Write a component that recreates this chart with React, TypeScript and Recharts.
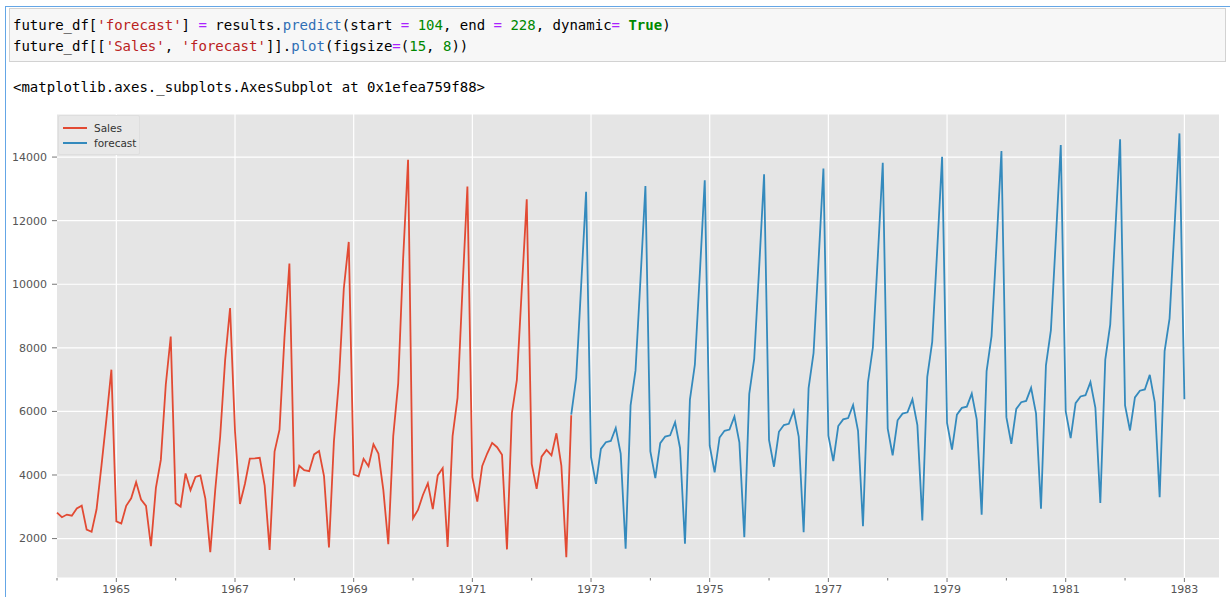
import { LineChart, Line, XAxis, YAxis, CartesianGrid } from "recharts";

// monthly champagne sales, 1964-01 .. 1972-09 (index 0..104)
const sales = [
  2815, 2672, 2755, 2721, 2946, 3036, 2282, 2212, 2922, 4301, 5764, 7312,
  2541, 2475, 3031, 3266, 3776, 3230, 3028, 1759, 3595, 4474, 6838, 8357,
  3113, 3006, 4047, 3523, 3937, 3986, 3260, 1573, 3528, 5211, 7614, 9254,
  5375, 3088, 3718, 4514, 4520, 4539, 3663, 1643, 4739, 5428, 8314, 10651,
  3633, 4292, 4154, 4121, 4647, 4753, 3965, 1723, 5048, 6922, 9858, 11331,
  4016, 3957, 4510, 4276, 4968, 4677, 3523, 1821, 5222, 6872, 10803, 13916,
  2639, 2899, 3370, 3740, 2927, 3986, 4217, 1738, 5221, 6424, 9842, 13076,
  3934, 3162, 4286, 4676, 5010, 4874, 4633, 1659, 5951, 6981, 9851, 12670,
  4348, 3564, 4577, 4788, 4618, 5312, 4298, 1413, 5877,
];

// predict(start=104, end=228): 1972-09 .. 1983-01
const forecast = [
  5900, 7050, 9950, 12910,
  4560, 3720, 4820, 5030, 5070, 5480, 4670, 1680, 6190, 7290, 10150, 13090,
  4740, 3900, 5000, 5210, 5250, 5660, 4850, 1840, 6370, 7470, 10330, 13270,
  4920, 4080, 5180, 5390, 5430, 5840, 5030, 2040, 6550, 7650, 10510, 13460,
  5100, 4260, 5360, 5570, 5610, 6020, 5210, 2200, 6730, 7830, 10690, 13640,
  5240, 4440, 5540, 5750, 5790, 6200, 5390, 2390, 6910, 8010, 10870, 13820,
  5460, 4620, 5720, 5930, 5970, 6380, 5570, 2570, 7090, 8190, 11050, 14010,
  5640, 4800, 5900, 6110, 6150, 6560, 5750, 2750, 7270, 8370, 11230, 14190,
  5820, 4980, 6080, 6290, 6330, 6740, 5930, 2940, 7450, 8550, 11410, 14380,
  6000, 5160, 6260, 6470, 6510, 6920, 6110, 3120, 7630, 8730, 11590, 14560,
  6190, 5400, 6440, 6650, 6690, 7150, 6290, 3300, 7900, 8920, 11770, 14745,
  6380,
];

const forecastStart = 104;
const startYear = 1964;
const yearTicks = [0, 12, 24, 36, 48, 60, 72, 84, 96, 108, 120, 132, 144, 156, 168, 180, 192, 204, 216, 228];
const labelTicks = [12, 36, 60, 84, 108, 132, 156, 180, 204, 228];
const yTicks = [2000, 4000, 6000, 8000, 10000, 12000, 14000];
const seriesNames = ["Sales", "forecast"];

const data = Array.from({ length: forecastStart + forecast.length }, (_, t) => ({
  t,
  sales: t < sales.length ? sales[t] : null,
  forecast: t >= forecastStart ? forecast[t - forecastStart] : null,
}));

const RED = "#E24A33";
const BLUE = "#348ABD";
const mono = "'DejaVu Sans Mono', monospace";

function YearTick(props: any) {
  const { x, y, payload } = props;
  const year = startYear + payload.value / 12;
  const major = labelTicks.includes(payload.value);
  return (
    <g>
      <line x1={x} x2={x} y1={y} y2={y + (major ? 4 : 2.5)} stroke="#777" />
      {major && (
        <text x={x} y={y + 15} textAnchor="middle" fill="#555" fontSize={11} fontFamily="DejaVu Sans">
          {year}
        </text>
      )}
    </g>
  );
}

function ChartLegend() {
  const colors = [RED, BLUE];
  return (
    <div style={{ position: "absolute", left: 58, top: 115, width: 82, height: 40, boxSizing: "border-box", background: "#e8e8e8", border: "1px solid #dedede", borderRadius: 2, padding: "4px 0 0 4px" }}>
      {seriesNames.map((n, i) => (
        <div key={n} style={{ display: "flex", alignItems: "center", height: 15 }}>
          <span style={{ display: "inline-block", width: 24, height: 2, background: colors[i], marginRight: 7 }} />
          <span style={{ fontFamily: "DejaVu Sans", fontSize: 10.5, color: "#333" }}>{n}</span>
        </div>
      ))}
    </div>
  );
}

const Tok = ({ c, b, children }: any) => (
  <span style={{ color: c, fontWeight: b ? "bold" : "normal" }}>{children}</span>
);

export default function App() {
  const S = "#BA2121";
  const N = "#008800";
  const O = "#AA22FF";
  const P = "#2f6fb5";
  return (
    <div style={{ position: "absolute", left: 0, top: 0, width: 1230, height: 597, background: "#fff", overflow: "hidden" }}>
      <div style={{ position: "absolute", left: 5, top: 6, width: 1240, height: 600, borderLeft: "1.5px solid #64a6e6", borderTop: "1.5px solid #64a6e6" }} />
      <div style={{ position: "absolute", left: 9, top: 8, width: 1217, height: 54, background: "#f7f7f7", border: "1px solid #d2d2d2", boxSizing: "border-box" }} />
      <div style={{ position: "absolute", left: 13, top: 15, fontFamily: mono, fontSize: 14, lineHeight: "21px", color: "#000", whiteSpace: "pre" }}>
        <div>
          future_df[<Tok c={S}>'forecast'</Tok>] <Tok c={O}>=</Tok> results.<Tok c={P}>predict</Tok>(start <Tok c={O}>=</Tok> <Tok c={N}>104</Tok>, end <Tok c={O}>=</Tok> <Tok c={N}>228</Tok>, dynamic<Tok c={O}>=</Tok> <Tok c={N} b>True</Tok>)
        </div>
        <div>
          future_df[[<Tok c={S}>'Sales'</Tok>, <Tok c={S}>'forecast'</Tok>]].<Tok c={P}>plot</Tok>(figsize<Tok c={O}>=</Tok>(<Tok c={N}>15</Tok>, <Tok c={N}>8</Tok>))
        </div>
      </div>
      <div style={{ position: "absolute", left: 13, top: 77, fontFamily: mono, fontSize: 14, lineHeight: "21px", color: "#000", whiteSpace: "pre" }}>
        {"<matplotlib.axes._subplots.AxesSubplot at 0x1efea759f88>"}
      </div>
      <div style={{ position: "absolute", left: 0, top: 100 }}>
        <LineChart width={1230} height={497} data={data} margin={{ top: 14, right: 11, bottom: 0, left: 0 }}>
          <CartesianGrid fill="#E5E5E5" stroke="#ffffff" strokeWidth={1.2} verticalValues={labelTicks} />
          <XAxis
            dataKey="t"
            type="number"
            domain={[0, 235]}
            ticks={yearTicks}
            interval={0}
            height={19}
            axisLine={false}
            tickLine={false}
            tickSize={0}
            tickMargin={0}
            tick={<YearTick />}
          />
          <YAxis
            type="number"
            domain={[760, 15355]}
            ticks={yTicks}
            interval={0}
            width={57}
            axisLine={false}
            tickSize={5}
            tickMargin={5}
            tickLine={{ stroke: "#777" }}
            tick={{ fill: "#555", fontSize: 11, fontFamily: "DejaVu Sans" }}
            allowDataOverflow
          />
          <Line type="linear" dataKey="sales" name={seriesNames[0]} stroke={RED} strokeWidth={1.8} dot={false} isAnimationActive={false} />
          <Line type="linear" dataKey="forecast" name={seriesNames[1]} stroke={BLUE} strokeWidth={1.8} dot={false} isAnimationActive={false} />
        </LineChart>
      </div>
      <ChartLegend />
    </div>
  );
}
